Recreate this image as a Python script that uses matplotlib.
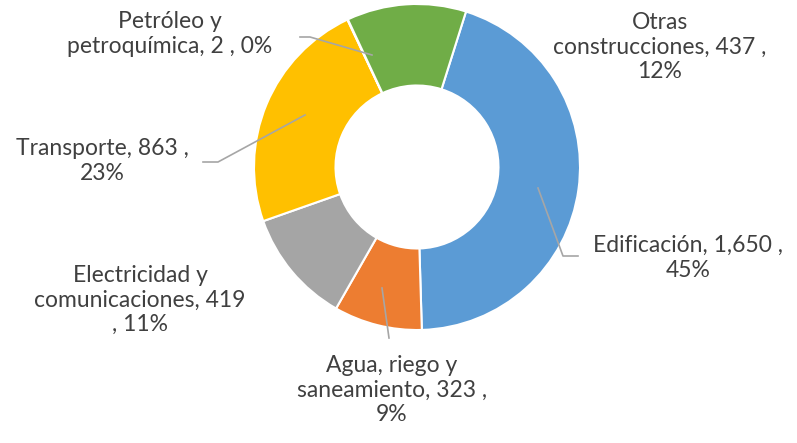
import matplotlib
matplotlib.use('Agg')
import matplotlib.pyplot as plt

plt.rcParams['font.family'] = ['Lato', 'DejaVu Sans']

categories = ['Edificación', 'Agua, riego y\nsaneamiento', 'Electricidad y\ncomunicaciones',
              'Transporte', 'Petróleo y\npetroquímica', 'Otras\nconstrucciones']
values = [1650, 323, 419, 863, 2, 437]
label_texts = ['Edificación, 1,650 ,\n45%',
               'Agua, riego y\nsaneamiento, 323 ,\n9%',
               'Electricidad y\ncomunicaciones, 419\n, 11%',
               'Transporte, 863 ,\n23%',
               'Petróleo y\npetroquímica, 2 , 0%',
               'Otras\nconstrucciones, 437 ,\n12%']
colors = ['#5B9BD5', '#ED7D31', '#A5A5A5', '#FFC000', '#4472C4', '#70AD47']

W, H = 797, 443
CX, CY, R = 417, 167, 163


def px(x, y):
    # pixel position (from top-left) -> data coords, radius 1 = R pixels
    return (x - CX) / R, (CY - y) / R


# label block centres in pixels
label_pos = [(688, 258), (392, 390), (140, 300), (102, 161), (170, 34), (660, 47)]
# leader lines in pixels (None = no line)
leaders = [
    [(578, 256), (563, 256), (538, 188)],
    [(389, 338), (382, 288)],
    None,
    [(203, 162), (218, 162), (305, 115)],
    [(300, 37), (310, 37), (372, 55)],
    None,
]

fig = plt.figure(figsize=(W / 100, H / 100), dpi=100)
ax = fig.add_axes([0, 0, 1, 1])
ax.pie(values, colors=colors, startangle=72.5, counterclock=False, radius=1,
       wedgeprops=dict(width=0.5, edgecolor='white', linewidth=1.5))
ax.set_aspect('equal')
ax.set_xlim(-CX / R, (W - CX) / R)
ax.set_ylim(-(H - CY) / R, CY / R)
ax.axis('off')

for txt, pos, ld in zip(label_texts, label_pos, leaders):
    x, y = px(*pos)
    ax.text(x, y, txt, ha='center', va='center', fontsize=16.5, color='#404040',
            linespacing=1.2)
    if ld:
        pts = [px(*p) for p in ld]
        ax.plot([p[0] for p in pts], [p[1] for p in pts], color='#A6A6A6', lw=1.2)

fig.savefig('out.png', dpi=100)
